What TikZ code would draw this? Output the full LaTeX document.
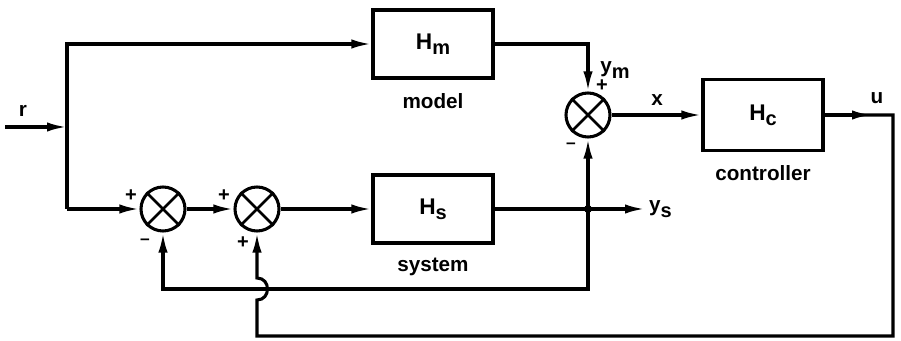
\documentclass[tikz,border=0pt]{standalone}
\usepackage{fontspec}
\setmainfont{Liberation Sans}
\usepackage{tikz}
\usetikzlibrary{arrows.meta, positioning, calc}

\newcommand{\lowsub}[1]{\raisebox{-4pt}{\fontsize{15}{15}\selectfont #1}}

\begin{document}
\begin{tikzpicture}[x=0.75pt, y=-0.75pt, line width=2.3pt,
    >={Latex[length=15pt,width=7pt]},
    font=\bfseries\fontsize{15.5}{17}\selectfont,
    box/.style={draw, minimum width=90pt, minimum height=51pt, inner sep=0pt, font=\bfseries\fontsize{17}{18}\selectfont},
    sum/.style={draw, circle, minimum size=33pt, inner sep=0pt},
    sgn/.style={inner sep=0pt, font=\bfseries\fontsize{15}{15}\selectfont}]
    \useasboundingbox (0,0) rectangle (901,341);
    % blocks
    \node[box] (hm) at (433,44) {H\lowsub{m}};
    \node[box] (hs) at (433,209) {H\lowsub{s}};
    \node[box, minimum height=53pt] (hc) at (763,115) {H\lowsub{c}};
    \node[below=6pt of hm] (mlab) {model};
    \node[below=6pt of hs] (slab) {system};
    \node[below=6pt of hc] (clab) {controller};
    % summing points
    \node[sum] (s1) at (163,209) {};
    \node[sum] (s2) at (257,209) {};
    \node[sum] (s3) at (588,115) {};
    \foreach \s in {s1,s2,s3}
        \draw[line width=2pt] (\s.45) -- (\s.225) (\s.135) -- (\s.-45);
    \node[sgn] (p1) at (131,196) {+};
    \node[sgn, font=\bfseries\fontsize{13}{13}\selectfont] (m1) at (145,242) {--};
    \node[sgn] (p2) at (224,196) {+};
    \node[sgn] (p3) at (243,243) {+};
    \node[sgn] (p4) at (602,86) {+};
    \node[sgn, font=\bfseries\fontsize{13}{13}\selectfont] (m2) at (571,146) {--};
    % points on the lines
    \coordinate (rin) at (5,127);
    \coordinate (tl) at (67,44);
    \coordinate (bl) at (67,209);
    \coordinate (jn) at (588,209);
    \coordinate (uc) at (872,115);
    \coordinate (ur) at (893,115);
    \coordinate (ub) at (893,336);
    \coordinate (fb) at (588,289);
    \fill (jn) circle (3pt);
    % signals
    \node (r) at (23,111) {r};
    \node (ym) at (615,70) {y\lowsub{m}};
    \node (x) at (657,100) {x};
    \node (u) at (877,98) {u};
    \node[anchor=west, inner sep=2pt] (ys) at (645,209) {y\lowsub{s}};
    % connections
    \draw[->] (rin) -- (bl |- rin);
    \draw[->] (bl) -- (tl) -- (hm.west);
    \draw[->] (bl) -- (s1.west);
    \draw[->] (s1.east) -- (s2.west);
    \draw[->] (s2.east) -- (hs.west);
    \draw (hs.east) -- (jn);
    \draw[->] (jn) -- (ys.west);
    \draw[->] (hm.east) -| (s3.north);
    \draw[->] (jn) -- (s3.south);
    \draw[->] (s3.east) -- (hc.west);
    \draw[->] (hc.east) -- (uc);
    \draw[->] (jn) -- (fb) -| (s1.south);
    \draw[->] (hc.east) -- (ur) -- (ub) -- (s2 |- ub) -- ($(s2 |- fb)+(0,11)$)
        .. controls ++(14,0) and ++(14,0) .. ($(s2 |- fb)+(0,-11)$) -- (s2.south);
\end{tikzpicture}
\end{document}
